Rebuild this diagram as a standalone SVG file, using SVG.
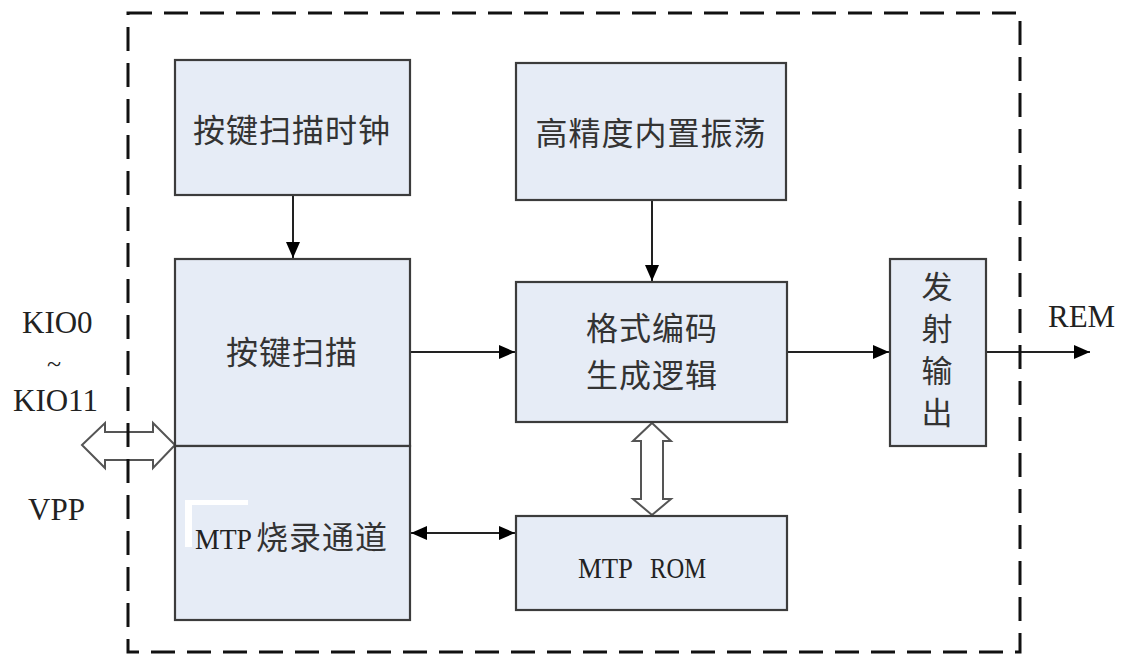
<svg xmlns="http://www.w3.org/2000/svg" width="1125" height="655" viewBox="0 0 1125 655">
<defs>
<style>
.box{fill:#e6ecf6;stroke:#3c3c3c;stroke-width:2.2}
.cjk{font-family:"Noto Sans CJK SC","Noto Sans CJK JP",sans-serif;font-size:32px;fill:#333;text-anchor:middle}
.vt{font-size:31px}
.lat{font-family:"Liberation Serif",serif;font-size:31px;fill:#222}
.mtp{font-family:"Liberation Serif",serif;font-size:30px;fill:#222}
.ln{stroke:#222;stroke-width:2;fill:none}
.hollow{fill:#fff;stroke:#555;stroke-width:2}
</style>
<marker id="ah" markerUnits="userSpaceOnUse" markerWidth="16" markerHeight="14" refX="16" refY="7" orient="auto-start-reverse">
<path d="M0,0 L16,7 L0,14 z" fill="#000"/>
</marker>
</defs>
<rect width="1125" height="655" fill="#fff"/>

<g id="connectors">
<line class="ln" x1="293" y1="196" x2="293" y2="258" marker-end="url(#ah)"/>
<line class="ln" x1="652" y1="200" x2="652" y2="281" marker-end="url(#ah)"/>
<line class="ln" x1="411" y1="352" x2="515" y2="352" marker-end="url(#ah)"/>
<line class="ln" x1="787" y1="352" x2="889" y2="352" marker-end="url(#ah)"/>
<line class="ln" x1="986" y1="352" x2="1090" y2="352" marker-end="url(#ah)"/>
<line class="ln" x1="411" y1="533" x2="515" y2="533" marker-start="url(#ah)" marker-end="url(#ah)"/>
<polygon class="hollow" points="652,423 671,441 663,441 663,499 671,499 652,515 633,499 641,499 641,441 633,441"/>
<polygon class="hollow" points="82,445 105,423 105,432 153,432 153,423 175,445 153,468 153,460 105,460 105,468"/>
</g>

<g id="n-clock">
<rect class="box" x="175" y="60" width="235" height="135"/>
<text class="cjk" x="292" y="142" letter-spacing="1">按键扫描时钟</text>
</g>

<g id="n-osc">
<rect class="box" x="516" y="63" width="270" height="137"/>
<text class="cjk" x="651" y="145" letter-spacing="1">高精度内置振荡</text>
</g>

<g id="n-scan">
<rect class="box" x="175" y="259" width="235" height="187"/>
<text class="cjk" x="292" y="364" letter-spacing="1">按键扫描</text>
</g>

<g id="n-mtpch">
<rect class="box" x="175" y="446" width="235" height="174"/>
<rect x="185" y="500" width="63" height="5" fill="#fff"/>
<rect x="185" y="500" width="7" height="47" fill="#fff"/>
<text x="195" y="549"><tspan class="mtp" textLength="57" lengthAdjust="spacingAndGlyphs">MTP</tspan><tspan class="cjk" style="text-anchor:start" dx="4" letter-spacing="1">烧录通道</tspan></text>
</g>

<g id="n-enc">
<rect class="box" x="516" y="282" width="271" height="140"/>
<text class="cjk" x="652" y="340" letter-spacing="1">格式编码</text>
<text class="cjk" x="652" y="387" letter-spacing="1">生成逻辑</text>
</g>

<g id="n-rom">
<rect class="box" x="516" y="516" width="271" height="94"/>
<text class="mtp" y="578"><tspan x="578" textLength="54" lengthAdjust="spacingAndGlyphs">MTP</tspan> <tspan x="650" textLength="56" lengthAdjust="spacingAndGlyphs">ROM</tspan></text>
</g>

<g id="n-out">
<rect class="box" x="890" y="259" width="96" height="187"/>
<text class="cjk vt" x="937" y="298">发</text>
<text class="cjk vt" x="937" y="340">射</text>
<text class="cjk vt" x="937" y="382">输</text>
<text class="cjk vt" x="937" y="424">出</text>
</g>

<g id="labels">
<text class="lat" x="22" y="333">KIO0</text>
<text class="lat" x="47" y="372" style="font-size:26px">~</text>
<text class="lat" x="13" y="411">KIO11</text>
<text class="lat" x="28" y="520">VPP</text>
<text class="lat" x="1048" y="327">REM</text>
</g>

<rect id="chip-boundary" x="128" y="13" width="892" height="639" fill="none" stroke="#111" stroke-width="3" stroke-dasharray="24 12"/>
</svg>
